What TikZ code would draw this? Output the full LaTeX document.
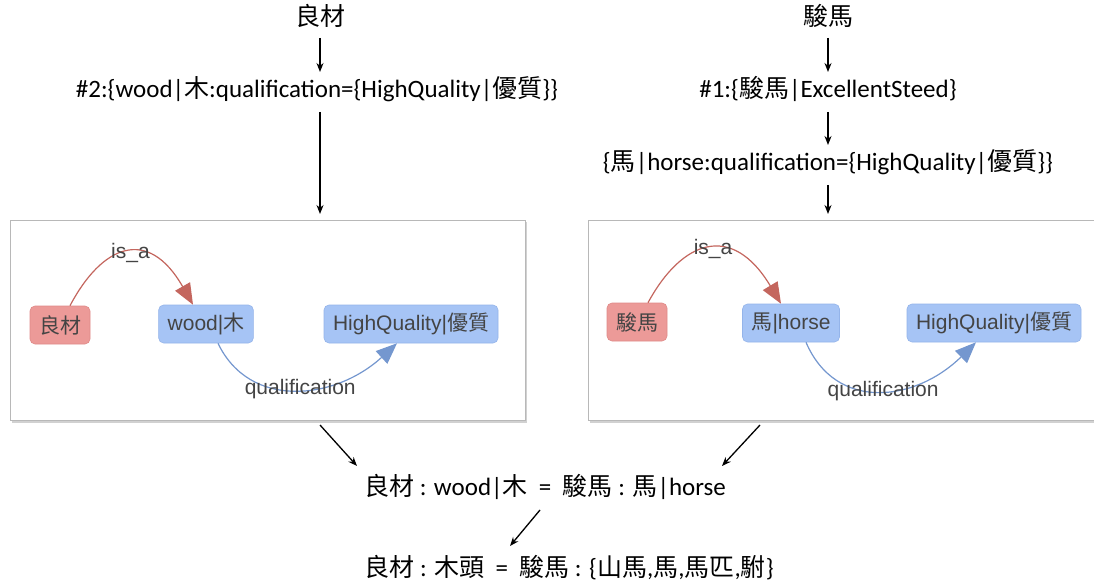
\documentclass[tikz,border=0pt]{standalone}
\usepackage{fontspec}
\setmainfont{Carlito}
\newfontfamily\cjk{Noto Sans CJK TC}
\newfontfamily\arialf{Liberation Sans}
\usetikzlibrary{arrows.meta}
\newcommand{\zh}[1]{{\cjk #1}}
\definecolor{nred}{HTML}{EC9A98}
\definecolor{nredb}{HTML}{E08A88}
\definecolor{nblue}{HTML}{A6C4F5}
\definecolor{nblueb}{HTML}{94B4EA}
\definecolor{ered}{HTML}{C4665E}
\definecolor{eblue}{HTML}{7497CF}
\definecolor{gtext}{HTML}{444444}
\begin{document}
\begin{tikzpicture}[x=1pt,y=-1pt,
  txt/.style={font=\fontsize{25}{28}\selectfont, inner sep=0pt, text height=18pt, text depth=6pt},
  blk/.style={-{Stealth[length=9pt,width=7pt]}, line width=1.3pt},
  panel/.style={draw=black!28, fill=white, line width=1pt, minimum width=#1, minimum height=200pt, inner sep=0pt},
  gnode/.style={rounded corners=5pt, inner xsep=9pt, minimum height=38pt, text=gtext, line width=0.6pt, font=\arialf\fontsize{21}{23}\selectfont},
  rnode/.style={gnode, fill=nred, draw=nredb},
  bnode/.style={gnode, fill=nblue, draw=nblueb},
  elab/.style={text=gtext, font=\arialf\fontsize{21}{23}\selectfont, inner sep=1pt},
  isa/.style={draw=ered, line width=1.2pt, -{Triangle[length=21pt,width=17pt]}},
  qual/.style={draw=eblue, line width=1.2pt, -{Triangle[length=21pt,width=17pt]}}
]
\useasboundingbox (0,0) rectangle (1094,585);
% ---------- left column ----------
\node[txt] (t1) at (320,20) {\zh{良材}};
\node[txt] (d1) at (317,92) {\#2:\{wood|\zh{木}:qualification=\{HighQuality|\zh{優質}\}\}};
\draw[blk] (t1.south |- 0,38) -- (t1.south |- 0,72);
% left panel
\fill[black!18] (12,222) rectangle (527,423);
\node[panel=515pt, anchor=north west] (pL) at (10,220) {};
\draw[blk] (320,112) -- (320,214);
\node[rnode] (a1) at (60,325) {\zh{良材}};
\node[bnode] (b1) at (206,324) {wood|\zh{木}};
\node[bnode] (c1) at (411,324) {HighQuality|\zh{優質}};
\draw[isa] (a1.north -| 70,0) .. controls (102,245) and (148,226) .. node[elab, pos=0.53] {is\_a} (b1.north -| 193,0);
\draw[qual] (b1.south -| 218,0) .. controls (250,410) and (335,400) .. node[elab, pos=0.52] {qualification} (c1.south -| 397,0);
% ---------- right column ----------
\node[txt] (t2) at (828,20) {\zh{駿馬}};
\node[txt] (d2) at (828,92) {\#1:\{\zh{駿馬}|ExcellentSteed\}};
\node[txt] (e2) at (828,165) {\{\zh{馬}|horse:qualification=\{HighQuality|\zh{優質}\}\}};
\draw[blk] (828,38) -- (828,72);
\draw[blk] (828,112) -- (828,145);
\draw[blk] (828,185) -- (828,214);
\fill[black!18] (590,222) rectangle (1096,423);
\node[panel=510pt, anchor=north west] (pR) at (588,220) {};
\node[rnode] (a2) at (637,322) {\zh{駿馬}};
\node[bnode] (b2) at (791,323) {\zh{馬}|horse};
\node[bnode] (c2) at (994,323) {HighQuality|\zh{優質}};
\draw[isa] (a2.north -| 648,0) .. controls (682,240) and (732,222) .. node[elab, pos=0.53] {is\_a} (b2.north -| 781,0);
\draw[qual] (b2.south -| 806,0) .. controls (836,412) and (915,402) .. node[elab, pos=0.52] {qualification} (c2.south -| 976,0);
% ---------- bottom ----------
\node[txt] (r1) at (545,489) {\zh{良材} : wood|\zh{木}\ \ =\ \ \zh{駿馬} : \zh{馬}|horse};
\node[txt] (r2) at (569,570) {\zh{良材} : \zh{木頭}\ \ =\ \ \zh{駿馬} : \{\zh{山馬},\zh{馬},\zh{馬匹},\zh{駙}\}};
\coordinate (aL) at (320,425);
\coordinate (aR) at (760,425);
\coordinate (aM) at (540,510);
\draw[blk] (aL) -- (357,466);
\draw[blk] (aR) -- (722,466);
\draw[blk] (aM) -- (510,546);
\end{tikzpicture}
\end{document}
